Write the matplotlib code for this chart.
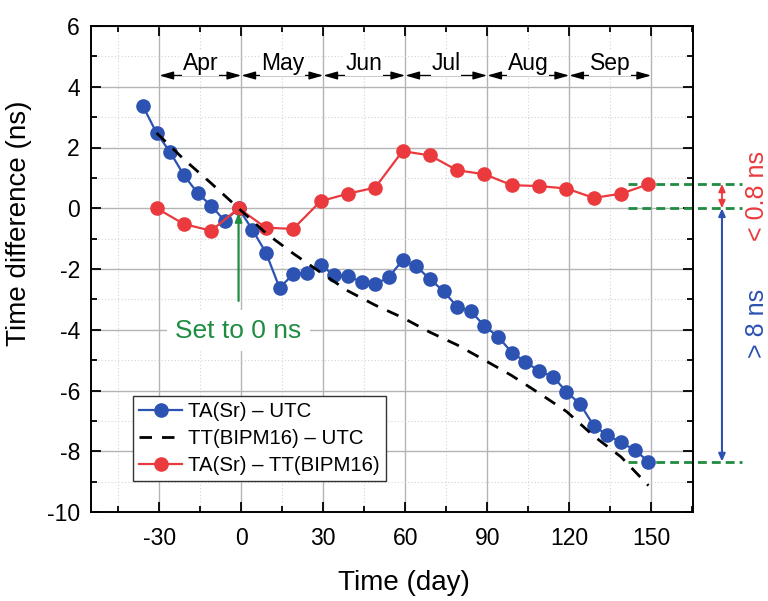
import matplotlib
matplotlib.use("Agg")
import matplotlib.pyplot as plt
from matplotlib.ticker import MultipleLocator

plt.rcParams['font.family'] = ['Liberation Sans', 'DejaVu Sans']
plt.rcParams['axes.unicode_minus'] = False

# ---------------- data ----------------
days_blue = [-36, -31, -26, -21, -16, -11, -6, -1, 4, 9, 14, 19, 24, 29, 34, 39, 44, 49,
             54, 59, 64, 69, 74, 79, 84, 89, 94, 99, 104, 109, 114, 119, 124, 129, 134,
             139, 144, 149]
ta_utc = [3.36, 2.48, 1.84, 1.09, 0.50, 0.08, -0.42, 0.00, -0.70, -1.46, -2.62, -2.17,
          -2.12, -1.88, -2.20, -2.24, -2.42, -2.51, -2.26, -1.72, -1.90, -2.34, -2.72,
          -3.25, -3.39, -3.88, -4.23, -4.75, -5.06, -5.36, -5.54, -6.04, -6.45, -7.16,
          -7.47, -7.71, -7.96, -8.34]

days_red = [-31, -21, -11, -1, 9, 19, 29, 39, 49, 59, 69, 79, 89, 99, 109, 119, 129, 139, 149]
tt_utc = [2.48, 1.61, 0.82, 0.00, -0.82, -1.49, -2.11, -2.72, -3.19, -3.60, -4.08, -4.50,
          -5.00, -5.51, -6.09, -6.69, -7.50, -8.19, -9.13]
ta_tt = [0.00, -0.52, -0.74, 0.00, -0.64, -0.68, 0.23, 0.48, 0.68, 1.88, 1.74, 1.25,
         1.12, 0.76, 0.73, 0.65, 0.34, 0.48, 0.79]

month_names = ["Apr", "May", "Jun", "Jul", "Aug", "Sep"]
month_bounds = [-30, 0, 30, 60, 90, 120, 150]

x_ticks = [-30, 0, 30, 60, 90, 120, 150]
y_ticks = [-10, -8, -6, -4, -2, 0, 2, 4, 6]

BLUE = "#2c52b2"
RED = "#ea3a3e"
GREEN = "#1f8c42"

# ---------------- figure ----------------
fig = plt.figure(figsize=(7.68, 6.01), dpi=100)
ax = fig.add_axes([91/768, 1-512/601, 602/768, 486/601])

ax.set_xlim(-55, 165.3)
ax.set_ylim(-10, 6)
ax.set_xticks(x_ticks)
ax.set_yticks(y_ticks)
ax.xaxis.set_minor_locator(MultipleLocator(15))
ax.yaxis.set_minor_locator(MultipleLocator(1))

ax.grid(True, which='major', color='#b4b4b4', lw=1.0, ls='-')
ax.grid(True, which='minor', color='#d4d4d4', lw=0.8, ls=(0, (1, 2)))
ax.set_axisbelow(True)

for s in ax.spines.values():
    s.set_linewidth(1.4)
ax.tick_params(which='both', direction='in', top=True, right=True, width=1.3)
ax.tick_params(which='major', length=7)
ax.tick_params(which='minor', length=4)
ax.tick_params(axis='x', which='major', labelsize=16.5, pad=11)
ax.tick_params(axis='y', which='major', labelsize=16.5, pad=8)

# ---------------- series ----------------
ax.plot(days_blue, ta_utc, '-', color=BLUE, lw=1.6, marker='o', ms=9.5,
        mec=BLUE, mfc=BLUE, zorder=3, label="TA(Sr) – UTC")
ax.plot(days_red, tt_utc, color='black', lw=2, dashes=(4.5, 3.6),
        zorder=5, label="TT(BIPM16) – UTC")
ax.plot(days_red, ta_tt, '-', color=RED, lw=1.6, marker='o', ms=9.5,
        mec=RED, mfc=RED, zorder=4, label="TA(Sr) – TT(BIPM16)")

h, l = ax.get_legend_handles_labels()
leg = ax.legend(h, l, loc='lower left', bbox_to_anchor=(0.07, 0.064), borderaxespad=0,
                fontsize=14.7, frameon=True, fancybox=False, edgecolor='#333333',
                framealpha=1, handlelength=2.1, handletextpad=0.3, labelspacing=0.38,
                borderpad=0.3)
leg.get_frame().set_linewidth(1.0)
leg.set_zorder(6)

# ---------------- month arrows ----------------
arrow_y = 4.37
for i, name in enumerate(month_names):
    a, b = month_bounds[i], month_bounds[i + 1]
    ax.annotate('', xy=(b, arrow_y), xytext=(a, arrow_y),
                arrowprops=dict(arrowstyle='<|-|>,head_length=0.7,head_width=0.2',
                                color='black', lw=1.0, mutation_scale=12,
                                shrinkA=0, shrinkB=0), zorder=6)
    ax.text((a + b) / 2, 4.55, name, ha='center', va='baseline', fontsize=16.5,
            zorder=7, bbox=dict(facecolor='white', edgecolor='none', pad=0.5))

# ---------------- set to 0 annotation ----------------
ax.annotate('', xy=(-1, -0.15), xytext=(-1, -3.05),
            arrowprops=dict(arrowstyle='-|>,head_length=0.5,head_width=0.2',
                            color=GREEN, lw=1.6, mutation_scale=10,
                            shrinkA=0, shrinkB=0), zorder=6)
ax.text(-1, -4.03, "Set to 0 ns", color=GREEN, ha='center', va='center', fontsize=19,
        zorder=7, bbox=dict(facecolor='white', edgecolor='none', pad=6))

# ---------------- right-hand annotation ----------------
for yv in [0.8, 0.0, -8.34]:
    ax.plot([141.5, 183.3], [yv, yv], color=GREEN, lw=2, dashes=(3.2, 1.8),
            clip_on=False, zorder=2)
ax.annotate('', xy=(175.9, 0.0), xytext=(175.9, 0.8), annotation_clip=False,
            arrowprops=dict(arrowstyle='<|-|>,head_length=0.5,head_width=0.22',
                            color=RED, lw=1.3, mutation_scale=9,
                            shrinkA=0, shrinkB=0))
ax.annotate('', xy=(175.9, -8.34), xytext=(175.9, 0.0), annotation_clip=False,
            arrowprops=dict(arrowstyle='<|-|>,head_length=0.5,head_width=0.22',
                            color=BLUE, lw=1.5, mutation_scale=9,
                            shrinkA=0, shrinkB=0))
ax.text(188.8, 0.39, "< 0.8 ns", color=RED, rotation=90, ha='center', va='center',
        fontsize=18, clip_on=False)
ax.text(188.8, -3.8, "> 8 ns", color=BLUE, rotation=90, ha='center', va='center',
        fontsize=18, clip_on=False)

# ---------------- labels ----------------
ax.set_xlabel("Time (day)", fontsize=20)
ax.xaxis.set_label_coords(0.52, -0.12)
ax.set_ylabel("Time difference (ns)", fontsize=20)
ax.yaxis.set_label_coords(-0.098, 0.595)

fig.savefig("out.png", dpi=100)
